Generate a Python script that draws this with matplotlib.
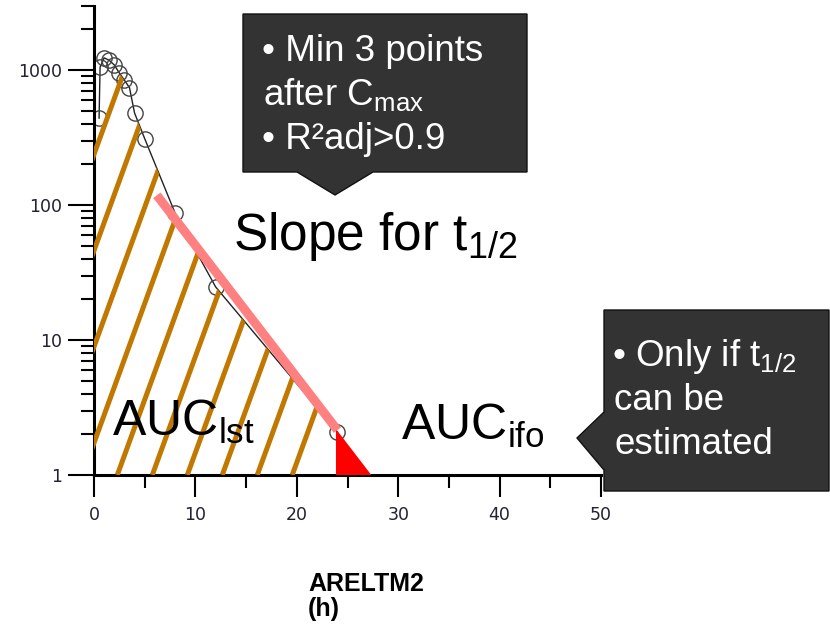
import numpy as np
import matplotlib
matplotlib.use('Agg')
import matplotlib.pyplot as plt
from matplotlib.patches import Polygon
from matplotlib.ticker import NullFormatter, LogLocator

plt.rcParams['font.family'] = ['Liberation Sans', 'DejaVu Sans']
plt.rcParams['mathtext.fontset'] = 'custom'
plt.rcParams['mathtext.rm'] = 'Liberation Sans'
plt.rcParams['mathtext.it'] = 'Liberation Sans:italic'

# concentration-time profile
time_h = [0.5, 0.6, 1, 1.5, 2, 2.5, 3, 3.5, 4, 5, 8, 12, 24]
conc = [440, 1050, 1230, 1180, 1090, 950, 840, 740, 480, 310, 87, 24.7, 2.08]

# terminal slope line used for t1/2
slope_t = [6.2, 24.0]
slope_c = [118, 2.15]

# extrapolated part of AUC
extrap_t = [24.0, 24.0, 27.2]
extrap_c = [2.08, 1.0, 1.0]

x_ticks = [0, 10, 20, 30, 40, 50]
x_minor = [5, 15, 25, 35, 45]
y_ticks = [1, 10, 100, 1000]
y_labels = ['1', '10', '100', '1000']

W, H = 830, 624
def fp(x, y):
    # pixel position -> figure fraction
    return x / W, 1 - y / H

fig = plt.figure(figsize=(W / 100, H / 100), dpi=100)
ax_l, ax_b, ax_r = 94, 475, 601
ax_h = np.log10(3000) * 135
ax = fig.add_axes([ax_l / W, 1 - ax_b / H, (ax_r - ax_l) / W, ax_h / H])
ax.set_yscale('log')
ax.set_xlim(0, 50)
ax.set_ylim(1, 3000)

for s in ['top', 'right']:
    ax.spines[s].set_visible(False)
for s in ['left', 'bottom']:
    ax.spines[s].set_linewidth(2.2)

ax.set_xticks(x_ticks)
ax.set_xticks(x_minor, minor=True)
ax.set_yticks(y_ticks)
ax.set_yticklabels(y_labels)
ax.yaxis.set_minor_locator(LogLocator(base=10, subs=np.arange(2, 10)))
ax.yaxis.set_minor_formatter(NullFormatter())
ax.tick_params(axis='y', which='major', length=19, width=1.5, pad=4,
               labelsize=12.5, labelcolor='#222233')
ax.tick_params(axis='y', which='minor', length=9.5, width=1.5)
ax.tick_params(axis='x', which='major', length=16, width=1.5, pad=6,
               labelsize=12.5, labelcolor='#222233')
ax.tick_params(axis='x', which='minor', length=9, width=1.5)
for lab in ax.get_xticklabels() + ax.get_yticklabels():
    lab.set_family('DejaVu Sans')

# data curve
ax.plot(time_h, conc, color='#222222', lw=1, marker='o', mfc='none',
        mec='#444444', ms=11, mew=1, zorder=2)

# hatching of AUClast: parallel lines clipped to the area under the curve
poly_x = [0, 0] + time_h + [time_h[-1]]
poly_y = [1, conc[0]] + conc + [1]
clip = Polygon(np.column_stack([poly_x, poly_y]), closed=True,
               transform=ax.transData, facecolor='none', edgecolor='none')
ax.add_patch(clip)
slope_frac = 2.75 * (ax_r - ax_l) / ax_h
for t0 in np.arange(-11.5, 21, 3.45):
    x0 = t0 / 50
    ln, = ax.plot([x0, x0 + 1 / slope_frac], [0, 1], transform=ax.transAxes,
                  color='#C07800', lw=3.6, solid_capstyle='butt', zorder=3)
    ln.set_clip_path(clip)

# extrapolated area and slope
ax.plot([24, 24], [1, 2.8], color='#FF8080', lw=2, ls=(0, (1, 25)), zorder=2)
ax.fill(extrap_t, extrap_c, color='#FF0000', lw=1.5, ec='#FF0000',
        joinstyle='round', zorder=3)
ax.plot(slope_t, slope_c, color='#FF8080', lw=6.5, solid_capstyle='butt', zorder=4)

# big labels
fig.text(*fp(233, 250), r'Slope for t$_{\mathrm{1/2}}$', fontsize=37, va='baseline')
fig.text(*fp(112, 436), r'AUC$_{\mathrm{lst}}$', fontsize=36, va='baseline')
fig.text(*fp(401, 440), r'AUC$_{\mathrm{ifo}}$', fontsize=36, va='baseline')

# callouts
box1 = [(243, 14), (527, 14), (527, 172), (373, 172), (335, 195), (297, 172), (243, 172)]
box2 = [(604, 310), (829, 310), (829, 491), (604, 491), (604, 470), (577, 438), (604, 412)]
for pts in [box1, box2]:
    fig.add_artist(Polygon([fp(x, y) for x, y in pts], closed=True,
                           transform=fig.transFigure, facecolor='#333333',
                           edgecolor='#111111', lw=1))

txt = dict(color='white', fontsize=26.5, va='baseline')
fig.text(*fp(262, 61), '\u2022 Min 3 points', **txt)
fig.text(*fp(263, 105), r'after C$_{\mathrm{max}}$', **txt)
fig.text(*fp(262, 149), '\u2022 R\u00b2adj>0.9', **txt)
fig.text(*fp(612, 366), '\u2022 Only if t' + r'$_{\mathrm{1/2}}$', **txt)
fig.text(*fp(614, 410), 'can be', **txt)
fig.text(*fp(614, 454), 'estimated', **txt)

# axis title
fig.text(*fp(308, 591), 'ARELTM2', fontsize=18, fontweight='bold', va='baseline')
fig.text(*fp(308, 616), '(h)', fontsize=18, fontweight='bold', va='baseline')

fig.savefig('out.png', dpi=100)
